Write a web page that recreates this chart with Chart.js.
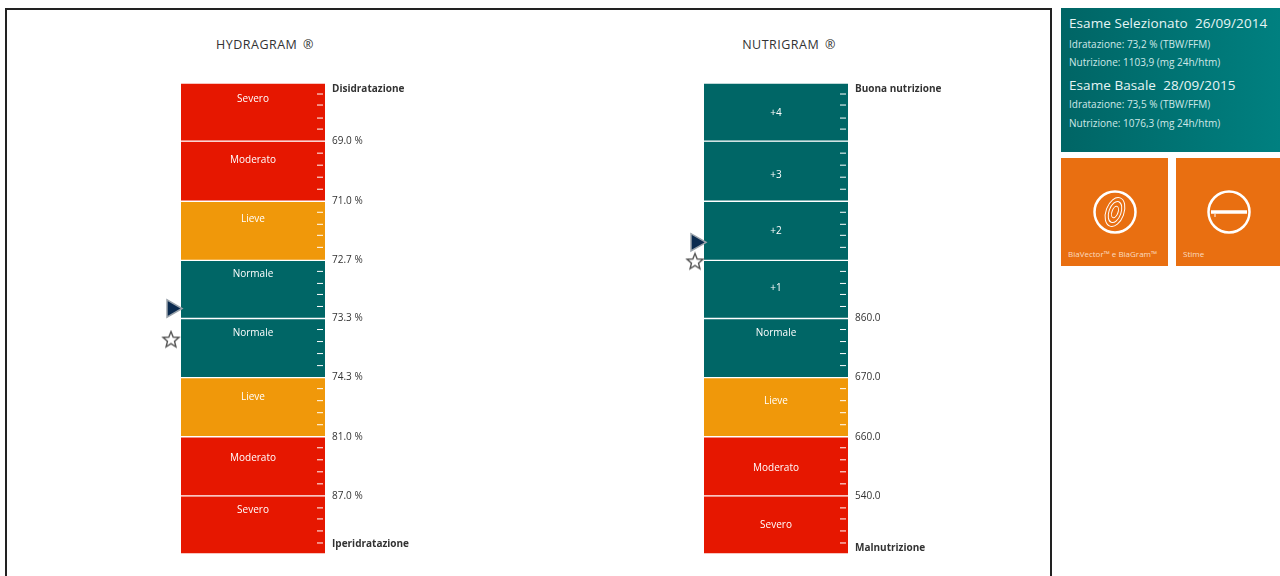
<!DOCTYPE html>
<html>
<head>
<meta charset="utf-8">
<title>Hydragram e Nutrigram</title>
<script src="https://cdn.jsdelivr.net/npm/chart.js@4/dist/chart.umd.min.js"></script>
<style>
    html, body { margin: 0; padding: 0; background: #fff; overflow: hidden; }
    body { width: 1280px; height: 576px; position: relative; font-family: "Open Sans", sans-serif; }
    #frame { position: absolute; left: 5px; top: 8px; width: 1043px; height: 580px; border: 2px solid #222; }
    canvas { position: absolute; }
    .chartTitle { position: absolute; top: 36px; width: 200px; text-align: center; font-size: 12.5px; letter-spacing: 0.5px; word-spacing: 2px; color: #333; }
    #info { position: absolute; left: 1061px; top: 8px; width: 219px; height: 144px; color: #dff; background: linear-gradient(90deg, #006565, #008080); }
    #info div { position: absolute; left: 8px; white-space: nowrap; }
    #info .big { font-size: 13.5px; letter-spacing: 0.07px; color: #e6f5f5; }
    #info .small { font-size: 10px; color: #cfe8e8; }
    .tile { position: absolute; top: 158px; height: 108px; background: #e96f11; color: #fbdcc0; }
    .tile span { position: absolute; left: 7px; top: 90px; font-size: 8px; white-space: nowrap; }
    .tile svg { position: absolute; top: 30px; }
</style>
</head>
<body>
<div id="frame"></div>
<div class="chartTitle" style="left:165px">HYDRAGRAM ®</div>
<div class="chartTitle" style="left:689px">NUTRIGRAM ®</div>
<canvas id="hydraChart" width="260" height="495" style="left:160px;top:71px"></canvas>
<canvas id="nutriChart" width="260" height="495" style="left:683px;top:71px"></canvas>

<div id="info">
    <div class="big" style="top:6px">Esame Selezionato&nbsp;&nbsp;26/09/2014</div>
    <div class="small" style="top:29px">Idratazione: 73,2 % (TBW/FFM)</div>
    <div class="small" style="top:47px">Nutrizione: 1103,9 (mg 24h/htm)</div>
    <div class="big" style="top:68px">Esame Basale&nbsp;&nbsp;28/09/2015</div>
    <div class="small" style="top:89px">Idratazione: 73,5 % (TBW/FFM)</div>
    <div class="small" style="top:108px">Nutrizione: 1076,3 (mg 24h/htm)</div>
</div>
<div class="tile" style="left:1061px;width:107px">
    <svg style="left:31px" width="46" height="46" viewBox="0 0 46 46" fill="none" stroke="#fff">
        <circle cx="23" cy="24" r="20.5" stroke-width="2.5"/>
        <g transform="rotate(20 23 24)" stroke-width="1">
            <ellipse cx="23" cy="24" rx="9" ry="15"/>
            <ellipse cx="23" cy="24" rx="6" ry="11"/>
            <ellipse cx="23" cy="24" rx="3" ry="6"/>
        </g>
    </svg>
    <span>BiaVector™ e BiaGram™</span>
</div>
<div class="tile" style="left:1176px;width:104px">
    <svg style="left:30px" width="46" height="46" viewBox="0 0 46 46" fill="none" stroke="#fff">
        <circle cx="23" cy="24" r="20.5" stroke-width="2.5"/>
        <line x1="5" y1="24" x2="41" y2="24" stroke-width="3.5"/>
        <line x1="9" y1="26" x2="9" y2="29" stroke-width="1"/>
    </svg>
    <span>Stime</span>
</div>

<script>
// Fasce dei due grafici (altezza in unità di scala, dall'alto verso il basso)
const zoneEdges = [0, 58, 118, 177, 235, 294, 353, 412, 470];
const subTicks = [11, 22, 35, 46, 70, 82, 94, 106, 129, 141, 152, 164, 188, 200, 211, 223,
    246, 258, 270, 282, 305, 317, 329, 341, 364, 376, 388, 400, 424, 435, 447, 459];

const RED = "#e61700";
const ORANGE = "#f0980a";
const TEAL = "#006666";

// Hydragram
const hydraZones = ["Severo", "Moderato", "Lieve", "Normale", "Normale", "Lieve", "Moderato", "Severo"];
const hydraColors = [RED, RED, ORANGE, TEAL, TEAL, ORANGE, RED, RED];
const hydraZoneLabelPos = [16, 77, 136, 191, 250, 313, 374, 426];
const hydraTickValues = [6, 58, 118, 177, 235, 294, 353, 412, 460];
const hydraTickLabels = ["Disidratazione", "69.0 %", "71.0 %", "72.7 %", "73.3 %", "74.3 %", "81.0 %", "87.0 %", "Iperidratazione"];
const hydraSelected = 225;
const hydraBaseline = 256;

// Nutrigram
const nutriZones = ["+4", "+3", "+2", "+1", "Normale", "Lieve", "Moderato", "Severo"];
const nutriColors = [TEAL, TEAL, TEAL, TEAL, TEAL, ORANGE, RED, RED];
const nutriZoneLabelPos = [30, 92, 148, 205, 250, 317, 384, 441];
const nutriTickValues = [6, 235, 294, 353, 412, 464];
const nutriTickLabels = ["Buona nutrizione", "860.0", "670.0", "660.0", "540.0", "Malnutrizione"];
const nutriSelected = 159;
const nutriBaseline = 178;

// Stella vuota per l'esame basale
function makeStar() {
    const c = document.createElement("canvas");
    c.width = 20;
    c.height = 20;
    const ctx = c.getContext("2d");
    ctx.beginPath();
    for (let i = 0; i < 10; i++) {
        const r = i % 2 ? 3.7 : 8.4;
        const a = -Math.PI / 2 + i * Math.PI / 5;
        ctx[i ? "lineTo" : "moveTo"](10 + r * Math.cos(a), 10.5 + r * Math.sin(a));
    }
    ctx.closePath();
    ctx.fillStyle = "#fff";
    ctx.fill();
    ctx.strokeStyle = "#555";
    ctx.lineWidth = 1.4;
    ctx.stroke();
    return c;
}

// Scritte dentro le fasce
const zoneLabelPlugin = {
    id: "zoneLabels",
    afterDatasetsDraw(chart, args, opts) {
        const ctx = chart.ctx;
        const x = chart.scales.x.getPixelForValue(0);
        ctx.save();
        ctx.font = '10px "Open Sans", sans-serif';
        ctx.fillStyle = "#fff";
        ctx.textAlign = "center";
        ctx.textBaseline = "middle";
        opts.names.forEach((name, i) => {
            ctx.fillText(name, x, chart.scales.y.getPixelForValue(opts.positions[i]));
        });
        ctx.restore();
    },
};

function drawGram(canvasId, zones, colors, labelPos, tickValues, tickLabels, selected, baseline, markX) {
    const datasets = zones.map((name, i) => ({
        type: "bar",
        label: name,
        data: [{ x: 0, y: [zoneEdges[i], zoneEdges[i + 1]] }],
        backgroundColor: colors[i],
        borderColor: "#fff",
        borderWidth: { top: 1, bottom: 1, left: 0, right: 0 },
        borderSkipped: false,
        barThickness: 144,
        grouped: false,
        order: 2,
    }));

    datasets.push({
        type: "line",
        label: "Tacche",
        data: subTicks.map(v => ({ x: 64, y: v })),
        showLine: false,
        pointStyle: "dash",
        pointRadius: 6,
        pointBorderColor: "#fff",
        pointBorderWidth: 1,
        order: 1,
    });
    datasets.push({
        type: "line",
        label: "Esame Selezionato",
        data: [{ x: markX, y: selected }],
        showLine: false,
        pointStyle: "triangle",
        pointRotation: 90,
        pointRadius: 10,
        pointBackgroundColor: "#0b2b4f",
        pointBorderColor: "#9aa3ab",
        pointBorderWidth: 1.5,
        order: 1,
    });
    datasets.push({
        type: "line",
        label: "Esame Basale",
        data: [{ x: markX - 1, y: baseline }],
        showLine: false,
        pointStyle: makeStar(),
        order: 1,
    });

    return new Chart(document.getElementById(canvasId), {
        data: { datasets: datasets },
        plugins: [zoneLabelPlugin],
        options: {
            responsive: false,
            animation: false,
            layout: { autoPadding: false, padding: 0 },
            plugins: {
                legend: { display: false },
                tooltip: { enabled: false },
                zoneLabels: { names: zones, positions: labelPos },
            },
            scales: {
                x: { type: "linear", display: false, offset: false, min: -93, max: 73 },
                y: {
                    position: "right",
                    reverse: true,
                    min: 0,
                    max: 470,
                    afterFit: axis => { axis.width = 94; },
                    afterBuildTicks: axis => { axis.ticks = tickValues.map(v => ({ value: v })); },
                    border: { display: false },
                    grid: { display: false, drawTicks: false },
                    ticks: {
                        autoSkip: false,
                        padding: 6,
                        color: "#333",
                        font: c => ({
                            family: '"Open Sans", sans-serif',
                            size: 10,
                            weight: c.index === 0 || c.index === tickValues.length - 1 ? "bold" : "normal",
                        }),
                        callback: (value, i) => tickLabels[i],
                    },
                },
            },
        },
    });
}

drawGram("hydraChart", hydraZones, hydraColors, hydraZoneLabelPos, hydraTickValues, hydraTickLabels, hydraSelected, hydraBaseline, -81);
drawGram("nutriChart", nutriZones, nutriColors, nutriZoneLabelPos, nutriTickValues, nutriTickLabels, nutriSelected, nutriBaseline, -80);
</script>
</body>
</html>
